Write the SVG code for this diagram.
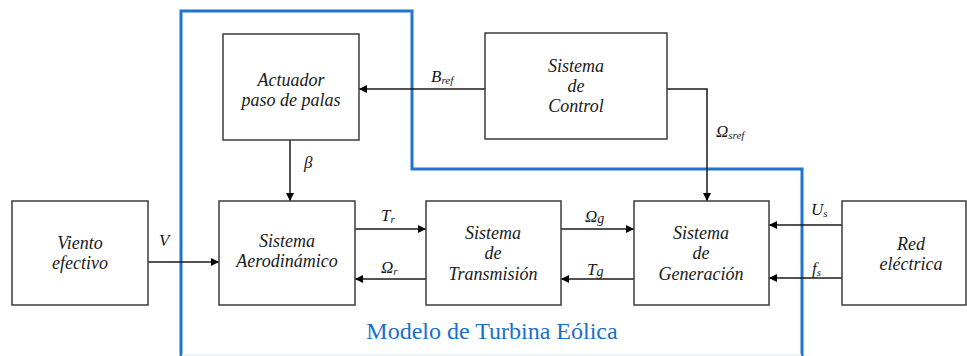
<svg xmlns="http://www.w3.org/2000/svg" width="967" height="356" viewBox="0 0 967 356" font-family="Liberation Serif, Times New Roman, serif">
<style>
.box{fill:#fff;stroke:#3c3c3c;stroke-width:1.5}
.t{font-family:"Liberation Serif","Times New Roman",serif;font-style:italic;font-size:18px;fill:#1a1a1a;text-anchor:middle}
.l{font-family:"Liberation Serif","Times New Roman",serif;font-style:italic;font-size:17px;fill:#1a1a1a}
.m{font-family:"Liberation Serif","Times New Roman",serif;font-size:24px;fill:#1a70c8;text-anchor:middle}
.sub{font-size:11px}
.c{fill:none;stroke:#1a1a1a;stroke-width:1.5}
.blue{fill:none;stroke:#1f75cf;stroke-width:3}
</style>
<defs>
<marker id="ah" viewBox="0 0 10 10" refX="10" refY="5" markerWidth="10" markerHeight="8" markerUnits="userSpaceOnUse" orient="auto">
<path d="M0,0 L10,5 L0,10 Z" fill="#000"/>
</marker>
</defs>
<rect width="967" height="356" fill="#fff"/>
<g id="boundary">
<path class="blue" d="M181,358 V11 H412 V169 H802 V358"/>
<line x1="182" y1="355" x2="801" y2="355" stroke="#eef4fb" stroke-width="2"/>
<text class="m" x="492" y="339">Modelo de Turbina Eólica</text>
</g>
<g id="connectors">
<path class="c" d="M485,89 H359" marker-end="url(#ah)"/>
<path class="c" d="M667,89 H707 V201" marker-end="url(#ah)"/>
<path class="c" d="M290,140 V201" marker-end="url(#ah)"/>
<path class="c" d="M148,262 H219" marker-end="url(#ah)"/>
<path class="c" d="M355,229 H426" marker-end="url(#ah)"/>
<path class="c" d="M426,279 H355" marker-end="url(#ah)"/>
<path class="c" d="M561,229 H634" marker-end="url(#ah)"/>
<path class="c" d="M634,279 H561" marker-end="url(#ah)"/>
<path class="c" d="M842,225 H769" marker-end="url(#ah)"/>
<path class="c" d="M842,278 H769" marker-end="url(#ah)"/>
<text class="l" x="431" y="82">B<tspan class="sub" dy="2">ref</tspan></text>
<text class="l" x="304" y="168">β</text>
<text class="l" x="716" y="137">Ω<tspan class="sub" dy="2">sref</tspan></text>
<text class="l" x="159" y="246">V</text>
<text class="l" x="381" y="221">T<tspan class="sub" dy="2">r</tspan></text>
<text class="l" x="381" y="273">Ω<tspan class="sub" dy="2">r</tspan></text>
<text class="l" x="585" y="222">Ω<tspan font-size="14" dy="1">g</tspan></text>
<text class="l" x="587" y="275">T<tspan font-size="14" dy="1">g</tspan></text>
<text class="l" x="811" y="215">U<tspan class="sub" dy="2">s</tspan></text>
<text class="l" x="812" y="274">f<tspan class="sub" dy="2">s</tspan></text>
</g>
<g id="actuador">
<rect class="box" x="223" y="34" width="136" height="106"/>
<text class="t" x="291" y="86">Actuador</text>
<text class="t" x="291" y="106">paso de palas</text>
</g>
<g id="control">
<rect class="box" x="485" y="33" width="182" height="106"/>
<text class="t" x="576" y="72">Sistema</text>
<text class="t" x="576" y="92">de</text>
<text class="t" x="576" y="112">Control</text>
</g>
<g id="viento">
<rect class="box" x="12" y="201" width="136" height="104"/>
<text class="t" x="80" y="249">Viento</text>
<text class="t" x="80" y="269">efectivo</text>
</g>
<g id="aerodinamico">
<rect class="box" x="219" y="201" width="136" height="104"/>
<text class="t" x="287" y="247">Sistema</text>
<text class="t" x="287" y="267">Aerodinámico</text>
</g>
<g id="transmision">
<rect class="box" x="426" y="201" width="135" height="104"/>
<text class="t" x="493" y="239">Sistema</text>
<text class="t" x="493" y="259">de</text>
<text class="t" x="493" y="280">Transmisión</text>
</g>
<g id="generacion">
<rect class="box" x="634" y="201" width="135" height="104"/>
<text class="t" x="701" y="239">Sistema</text>
<text class="t" x="701" y="259">de</text>
<text class="t" x="701" y="280">Generación</text>
</g>
<g id="red">
<rect class="box" x="842" y="201" width="124" height="104"/>
<text class="t" x="911" y="250">Red</text>
<text class="t" x="911" y="270">eléctrica</text>
</g>
</svg>
